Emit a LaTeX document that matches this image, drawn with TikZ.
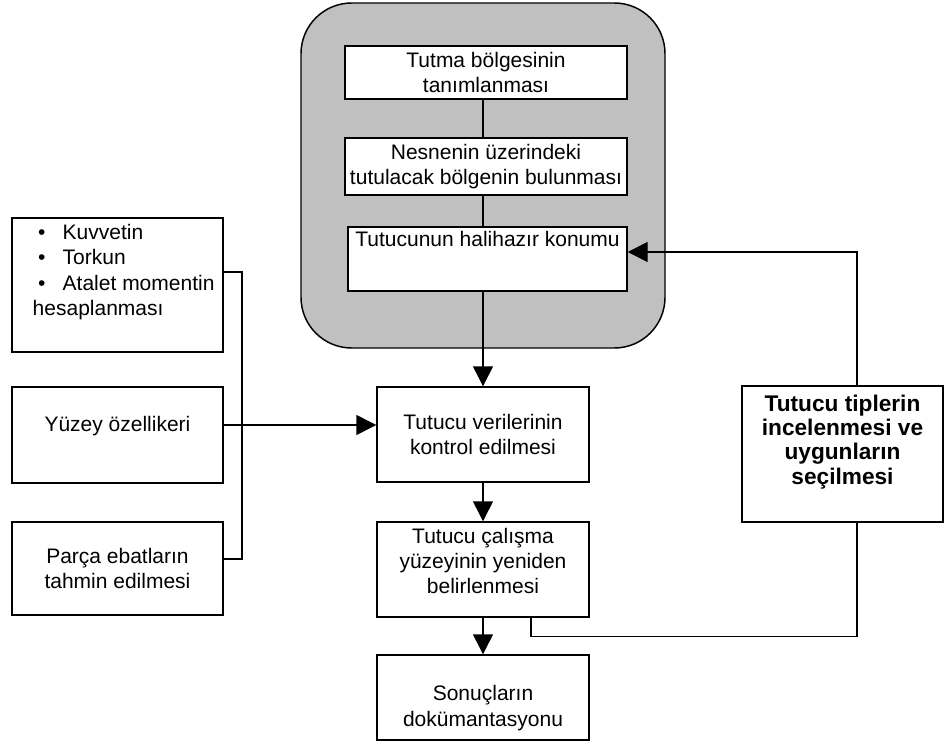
\documentclass[tikz,border=0pt]{standalone}
\usepackage{fontspec}
\setmainfont{Liberation Sans}
\usetikzlibrary{arrows.meta}

\tikzset{
  box/.style={draw, fill=white, line width=1.1pt, inner sep=0pt},
  grp/.style={draw, fill=silver, line width=1.1pt, rounded corners=38pt, inner sep=0pt,
    minimum width=273pt, minimum height=258.75pt},
  txt/.style={align=center, inner sep=0pt, font=\fontsize{15.75pt}{19pt}\selectfont},
  btxt/.style={align=center, inner sep=0pt, font=\fontsize{17pt}{18.2pt}\selectfont\bfseries},
  arr/.style={-{Triangle[length=15pt,width=15pt]}},
}
\definecolor{silver}{RGB}{192,192,192}

\begin{document}
\begin{tikzpicture}[x=0.75pt, y=-0.75pt, line width=1.1pt]
\useasboundingbox (0,0) rectangle (946,756);

\node[grp] (grp) at (483,175.5) {};

\node[box, minimum width=211.5pt, minimum height=39.75pt, txt] (tut) at (486,72.5) {Tutma bölgesinin\\tanımlanması};
\node[box, minimum width=211.5pt, minimum height=42.75pt, txt] (nes) at (486,166.5) {Nesnenin üzerindeki\\tutulacak bölgenin bulunması};
\node[box, minimum width=209.25pt, minimum height=48pt] (konum) at (487.5,259) {};
\node[txt] (konum-t) at (487.5,239) {Tutucunun halihazır konumu};

\node[box, minimum width=159pt, minimum height=71.25pt, txt] (kontrol) at (483,434.5) {Tutucu verilerinin\\kontrol edilmesi};
\node[box, minimum width=159pt, minimum height=71.25pt] (yuzey) at (483,569.5) {};
\node[txt] (yuzey-t) at (483,561) {Tutucu çalışma\\yüzeyinin yeniden\\belirlenmesi};
\node[box, minimum width=159pt, minimum height=63.75pt] (sonuc) at (483,697.5) {};
\node[txt] (sonuc-t) at (483,708) {Sonuçların\\dokümantasyonu};

\node[box, minimum width=158.25pt, minimum height=100.5pt] (kuvvet) at (117.5,285) {};
\node[txt, align=left, anchor=west] (kuvvet-t) at (32,272)
  {\makebox[22.5pt][l]{\hspace{4pt}\textbullet}Kuvvetin\\
   \makebox[22.5pt][l]{\hspace{4pt}\textbullet}Torkun\\
   \makebox[22.5pt][l]{\hspace{4pt}\textbullet}Atalet momentin\\
   hesaplanması};
\node[box, minimum width=158.25pt, minimum height=72pt] (ozellik) at (117.5,435) {};
\node[txt] (ozellik-t) at (117.5,426) {Yüzey özellikeri};
\node[box, minimum width=158.25pt, minimum height=69.75pt, txt] (ebat) at (117.5,568.5) {Parça ebatların\\tahmin edilmesi};

\node[box, minimum width=150.75pt, minimum height=102pt] (tip) at (842.5,454) {};
\node[btxt] (tip-t) at (842.5,442) {Tutucu tiplerin\\incelenmesi ve\\uygunların\\seçilmesi};

% ana akis
\draw (tut.south -| kontrol) -- (nes.north -| kontrol);
\draw (nes.south -| kontrol) -- (konum.north -| kontrol);
\draw[arr] (konum.south -| kontrol) -- (kontrol.north);
\draw[arr] (kontrol) -- (yuzey);
\draw[arr] (yuzey) -- (sonuc);

% sol giris hatti
\coordinate (bus) at (242,425);
\draw ([yshift=9.75pt]kuvvet.east) -| (bus) |- ([yshift=7.125pt]ebat.east);
\draw[arr] (ozellik.east |- bus) -- (kontrol.west |- bus);

% geri besleme
\draw ([xshift=36pt]yuzey.south) -- ++(0,19) -| ([xshift=10.875pt]tip.south);
\draw[arr] ([xshift=10.875pt]tip.north) |- ([yshift=5.25pt]konum.east);
\end{tikzpicture}
\end{document}
